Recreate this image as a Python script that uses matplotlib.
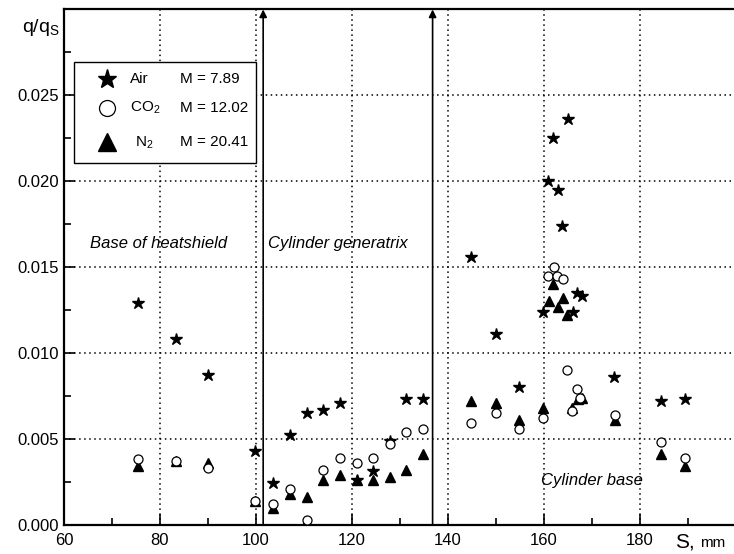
import numpy as np
import matplotlib.pyplot as plt
from matplotlib.patches import Rectangle

plt.rcParams['font.family'] = ['Liberation Sans', 'DejaVu Sans']
plt.rcParams['mathtext.fontset'] = 'custom'
plt.rcParams['mathtext.rm'] = 'Liberation Sans'

# Air, M = 7.89
air_s = [75.5, 83.3, 90.1, 99.8, 103.5, 107.1, 110.7, 113.9, 117.5, 121.0, 124.3,
         127.9, 131.2, 134.7, 144.8, 150.0, 154.9, 159.9, 160.8, 161.9, 162.9, 163.8,
         165.0, 166.0, 166.9, 168.0, 174.7, 184.3, 189.4]
air_q = [0.0129, 0.0108, 0.0087, 0.0043, 0.0024, 0.0052, 0.0065, 0.0067, 0.0071, 0.0026, 0.0031,
         0.0049, 0.0073, 0.0073, 0.0156, 0.0111, 0.0080, 0.0124, 0.0200, 0.0225, 0.0195, 0.0174,
         0.0236, 0.0124, 0.0135, 0.0133, 0.0086, 0.0072, 0.0073]

# CO2, M = 12.02
co2_s = [75.5, 83.3, 90.1, 99.8, 103.5, 107.1, 110.7, 113.9, 117.5, 121.0, 124.3,
         127.9, 131.2, 134.7, 144.9, 150.0, 154.9, 159.9, 160.8, 162.0, 162.7, 164.0,
         164.9, 165.9, 166.8, 167.5, 174.8, 184.3, 189.4]
co2_q = [0.0038, 0.0037, 0.0033, 0.0014, 0.0012, 0.0021, 0.0003, 0.0032, 0.0039, 0.0036, 0.0039,
         0.0047, 0.0054, 0.0056, 0.0059, 0.0065, 0.0056, 0.0062, 0.0145, 0.0150, 0.0145, 0.0143,
         0.0090, 0.0066, 0.0079, 0.0074, 0.0064, 0.0048, 0.0039]

# N2, M = 20.41
n2_s = [75.5, 83.3, 90.1, 99.8, 103.5, 107.1, 110.7, 113.9, 117.5, 121.0, 124.3,
        127.9, 131.2, 134.7, 144.9, 150.0, 154.9, 159.9, 161.0, 161.8, 163.0, 164.0,
        164.9, 165.9, 167.1, 168.0, 174.8, 184.3, 189.4]
n2_q = [0.0034, 0.0037, 0.0036, 0.0014, 0.0010, 0.0018, 0.0016, 0.0026, 0.0029, 0.0026, 0.0026,
        0.0028, 0.0032, 0.0041, 0.0072, 0.0071, 0.0061, 0.0068, 0.0130, 0.0140, 0.0127, 0.0132,
        0.0122, 0.0068, 0.0073, 0.0074, 0.0061, 0.0041, 0.0034]

region_bounds = [101.5, 136.8]
legend_names = ['Air', 'CO$_\\mathregular{2}$', 'N$_\\mathregular{2}$']
mach = ['M = 7.89', 'M = 12.02', 'M = 20.41']

fig = plt.figure(figsize=(7.34, 5.54), dpi=100)
ax = fig.add_axes([0.0872, 0.0529, 0.9128, 0.930])

styles = [dict(marker='*', ms=9, color='black'),
          dict(marker='o', ms=6.5, mfc='white', mec='black', mew=0.9),
          dict(marker='^', ms=7.5, color='black')]
ax.plot(air_s, air_q, ls='none', zorder=3, **styles[0])
ax.plot(co2_s, co2_q, ls='none', zorder=4, **styles[1])
ax.plot(n2_s, n2_q, ls='none', zorder=3, **styles[2])

# region boundaries
for xb in region_bounds:
    ax.annotate('', xy=(xb, 0.030), xytext=(xb, 0.0),
                arrowprops=dict(arrowstyle='-|>', color='black', lw=1.2,
                                mutation_scale=11, shrinkA=0, shrinkB=0),
                annotation_clip=False)

ax.text(65.4, 0.0164, 'Base of heatshield', style='italic', fontsize=12, va='center')
ax.text(102.6, 0.0164, 'Cylinder generatrix', style='italic', fontsize=12, va='center')
ax.text(159.4, 0.0026, 'Cylinder base', style='italic', fontsize=12, va='center')

ax.set_xlim(60, 199.6)
ax.set_ylim(0, 0.030)
ax.set_xticks(np.arange(60, 200, 20))
ax.set_xticks(np.arange(70, 200, 10), minor=True)
ax.set_yticks(np.arange(0, 0.0251, 0.005))
ax.set_yticks(np.arange(0.0025, 0.03, 0.005), minor=True)
ax.set_yticklabels(['%.3f' % v for v in np.arange(0, 0.0251, 0.005)])
ax.tick_params(which='both', direction='in', labelsize=12, width=1.2)
ax.tick_params(which='major', length=8)
ax.tick_params(which='minor', length=5)
ax.tick_params(axis='x', pad=6)
ax.grid(True, which='major', ls=(0, (1, 2.3)), color='black', lw=1.1)
ax.spines['right'].set_visible(False)
for sp in ['left', 'bottom', 'top']:
    ax.spines[sp].set_linewidth(1.6)

# legend box drawn by hand to match the original layout
ax.add_patch(Rectangle((0.0149, 0.702), 0.2717, 0.196, transform=ax.transAxes,
                       facecolor='white', edgecolor='black', lw=1.0, zorder=8))
leg_y = [0.865, 0.8085, 0.742]
leg_ms = [14, 11.5, 13]
leg_x = [0.0985, 0.0985, 0.106]
for i in range(3):
    st = dict(styles[i])
    st['ms'] = leg_ms[i]
    ax.plot([0.0642], [leg_y[i]], transform=ax.transAxes, ls='none', zorder=9, clip_on=False, **st)
    ax.text(leg_x[i], leg_y[i], legend_names[i], transform=ax.transAxes, fontsize=11,
            va='center', zorder=9)
    ax.text(0.173, leg_y[i], mach[i], transform=ax.transAxes, fontsize=11, va='center', zorder=9)

fig.text(22 / 734, 1 - 28 / 554, 'q/q$_\\mathregular{S}$', fontsize=14, va='center')
fig.text(675 / 734, 1 - 542 / 554, 'S,', fontsize=15, va='center')
fig.text(700 / 734, 1 - 543 / 554, 'mm', fontsize=11, va='center')

fig.savefig('out.png', dpi=100)
